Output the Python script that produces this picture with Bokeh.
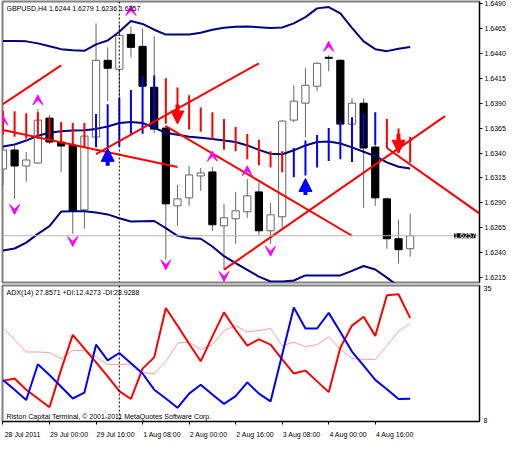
from bokeh.plotting import figure
from bokeh.models import (Range1d, FixedTicker, NumeralTickFormatter, Span, Label,
                          Arrow, VeeHead, NormalHead, ColumnDataSource, LinearAxis)
from bokeh.layouts import column
from bokeh.embed import file_html
from bokeh.resources import INLINE

FONT = "Liberation Sans"
FS = "7px"

# ---------------- data ----------------
bars = list(range(36))
opens = [1.6324, 1.6343, 1.6327, 1.6330, 1.6375, 1.6351, 1.6348, 1.6283, 1.6356, 1.6433,
         1.6424, 1.6459, 1.6447, 1.6406, 1.6365, 1.6287, 1.6295, 1.6317, 1.6321, 1.6267,
         1.6274, 1.6281, 1.6301, 1.6262, 1.6276, 1.6373, 1.6390, 1.6407, 1.6436, 1.6433,
         1.6369, 1.6390, 1.6346, 1.6294, 1.6254, 1.6244]
highs = [1.6347, 1.6347, 1.6341, 1.6384, 1.6378, 1.6353, 1.6351, 1.6358, 1.6470, 1.6446,
         1.6469, 1.6467, 1.6465, 1.6457, 1.6368, 1.6308, 1.6327, 1.6325, 1.6326, 1.6289,
         1.6301, 1.6314, 1.6310, 1.6290, 1.6373, 1.6408, 1.6425, 1.6431, 1.6438, 1.6434,
         1.6395, 1.6395, 1.6349, 1.6295, 1.6273, 1.6279]
lows = [1.6308, 1.6294, 1.6311, 1.6329, 1.6349, 1.6321, 1.6259, 1.6264, 1.6354, 1.6392,
        1.6395, 1.6436, 1.6403, 1.6360, 1.6233, 1.6267, 1.6287, 1.6302, 1.6262, 1.6223,
        1.6249, 1.6275, 1.6257, 1.6249, 1.6264, 1.6371, 1.6356, 1.6402, 1.6422, 1.6366,
        1.6366, 1.6285, 1.6287, 1.6244, 1.6229, 1.6236]
closes = [1.6343, 1.6327, 1.6333, 1.6373, 1.6351, 1.6347, 1.6282, 1.6357, 1.6433, 1.6425,
          1.6458, 1.6446, 1.6407, 1.6364, 1.6289, 1.6294, 1.6318, 1.6320, 1.6268, 1.6275,
          1.6282, 1.6297, 1.6262, 1.6278, 1.6372, 1.6392, 1.6408, 1.6430, 1.6435, 1.6369,
          1.6390, 1.6345, 1.6295, 1.6254, 1.6243, 1.6257]

upper_band = [1.64523, 1.64523, 1.64520, 1.64500, 1.64471, 1.64442, 1.64432, 1.64425, 1.64490, 1.64529,
              1.64617, 1.64724, 1.64695, 1.64637, 1.64588, 1.64588, 1.64588, 1.64607, 1.64637, 1.64656,
              1.64666, 1.64669, 1.64661, 1.64653, 1.64659, 1.64700, 1.64763, 1.64851, 1.64864, 1.64800,
              1.64656, 1.64520, 1.64442, 1.64422, 1.64447, 1.64464]
middle_band = [1.63466, 1.63486, 1.63525, 1.63574, 1.63603, 1.63618, 1.63627, 1.63629, 1.63642, 1.63666,
               1.63701, 1.63710, 1.63701, 1.63652, 1.63603, 1.63583, 1.63564, 1.63554, 1.63540, 1.63525,
               1.63510, 1.63476, 1.63432, 1.63393, 1.63388, 1.63427, 1.63476, 1.63510, 1.63515, 1.63496,
               1.63457, 1.63413, 1.63369, 1.63306, 1.63262, 1.63245]
lower_band = [1.62423, 1.62442, 1.62501, 1.62589, 1.62667, 1.62813, 1.62816, 1.62816, 1.62803, 1.62784,
              1.62745, 1.62713, 1.62716, 1.62718, 1.62647, 1.62569, 1.62545, 1.62540, 1.62462, 1.62365,
              1.62296, 1.62228, 1.62160, 1.62111, 1.62111, 1.62121, 1.62172, 1.62172, 1.62172, 1.62172,
              1.62218, 1.62267, 1.62231, 1.62150, 1.62062, 1.62023]

# trend histogram: +1 = up (blue), -1 = down (red)
hist_dir = [-1, -1, -1, -1, -1, -1, -1, -1,
            1, 1, 1, 1, 1, 1,
            -1, -1, -1, -1, -1, -1, -1, -1, -1, -1, -1,
            1, 1, 1, 1, 1, 1, 1, 1,
            -1, -1, -1]
hist_top = [1.63824, 1.63818, 1.63798, 1.63808, 1.63749, 1.63710, 1.63701, 1.63701,
            1.63791, 1.63889, 1.63954, 1.64032, 1.64169, 1.64178,
            1.64149, 1.64058, 1.63980, 1.63857, 1.63808, 1.63742, 1.63661, 1.63590, 1.63532, 1.63418, 1.63418,
            1.63450, 1.63525, 1.63581, 1.63652, 1.63717, 1.63759, 1.63791, 1.63808,
            1.63742, 1.63645, 1.63564]
hist_bot = [1.63583, 1.63564, 1.63544, 1.63544, 1.63535, 1.63496, 1.63476, 1.63457,
            1.63457, 1.63457, 1.63466, 1.63593, 1.63593, 1.63661,
            1.63694, 1.63710, 1.63635, 1.63613, 1.63532, 1.63434, 1.63418, 1.63337, 1.63278, 1.63255, 1.63206,
            1.63157, 1.63174, 1.63255, 1.63320, 1.63337, 1.63310, 1.63466, 1.63483,
            1.63450, 1.63401, 1.63304]

# trend lines (bar index, price)
tl_x0 = [0, 0, 8, 14, 19, 33]
tl_y0 = [1.6389, 1.6363, 1.6339, 1.6367, 1.6223, 1.6345]
tl_x1 = [5, 15, 22, 30, 38, 41]
tl_y1 = [1.6428, 1.6326, 1.6430, 1.6257, 1.6377, 1.6279]

# thick signal arrows
sig_idx = [9, 15, 26, 34]
sig_dir = [1, -1, 1, -1]
sig_tip = [1.63447, 1.63691, 1.63145, 1.63398]
sig_tail = [1.63271, 1.63886, 1.62979, 1.63593]

# fractal chevrons
frac_up_idx = [0, 3, 11, 18, 21, 28]
frac_up_tip = [1.63779, 1.63983, 1.64880, 1.63418, 1.63271, 1.64520]
frac_dn_idx = [1, 6, 14, 19, 23]
frac_dn_tip = [1.62784, 1.62462, 1.62228, 1.62111, 1.62365]

adx = [27.0, 24.5, 22.0, 22.0, 21.9, 20.6, 22.3, 22.3, 21.0, 19.4,
       19.5, 19.5, 17.8, 17.6, 20.1, 23.8, 24.1, 22.5, 23.5, 26.4,
       27.4, 26.1, 26.4, 26.8, 23.3, 24.0, 23.1, 23.5, 25.1, 22.5,
       20.7, 20.5, 20.5, 23.3, 26.2, 27.8571]
plus_di = [16.3, 14.3, 12.2, 19.5, 17.3, 14.9, 12.5, 13.7, 23.5, 20.3,
           21.8, 19.7, 17.6, 14.3, 12.5, 10.6, 13.5, 15.3, 13.3, 11.4,
           13.0, 15.8, 13.5, 11.9, 21.5, 31.1, 26.8, 26.8, 30.0, 26.1,
           22.1, 19.2, 16.3, 14.4, 12.4, 12.4273]
minus_di = [16.1, 16.6, 14.3, 12.5, 10.7, 18.4, 25.5, 22.7, 19.9, 17.0,
            14.0, 12.4, 18.6, 20.9, 31.0, 27.4, 23.7, 20.1, 25.2, 30.1,
            26.5, 23.3, 24.6, 23.5, 20.5, 17.6, 18.2, 16.0, 13.8, 22.9,
            27.4, 29.2, 25.3, 33.6, 33.8, 28.9288]

time_tick_idx = [0, 4, 8, 12, 16, 20, 24, 28, 32]
time_tick_labels = ["28 Jul 2011", "29 Jul 00:00", "29 Jul 16:00", "1 Aug 08:00", "2 Aug 00:00",
                    "2 Aug 16:00", "3 Aug 08:00", "4 Aug 00:00", "4 Aug 16:00"]
price_ticks = [1.6215, 1.6240, 1.6265, 1.6290, 1.6315, 1.6340, 1.6365, 1.6390,
               1.6415, 1.6440, 1.6465, 1.6490]
adx_ticks = [8, 35]
cursor_bar = 10
symbol = "GBPUSD,H4"
copyright_text = "Riston Capital Terminal, \u00a9 2001-2011 MetaQuotes Software Corp."

# ---------------- figures ----------------
X0, X1 = -0.04, 40.96
X_RANGE = Range1d(X0, X1)
LABEL_SHIFT = 1.68  # time labels start at their tick (MT4 style)
W = 509


def style_right_axis(ax):
    ax.axis_line_color = "black"
    ax.major_tick_out = 3
    ax.major_tick_in = 0
    ax.minor_tick_line_color = None
    ax.major_label_text_font = FONT
    ax.major_label_text_font_size = FS
    ax.major_label_text_color = "black"
    ax.major_label_standoff = 2


p = figure(width=W, height=284, x_range=X_RANGE, y_range=Range1d(1.62101, 1.64920),
           output_backend="svg", toolbar_location=None, x_axis_location=None,
           y_axis_location="right", min_border_left=2, min_border_right=30,
           min_border_top=1, min_border_bottom=2)
p.grid.visible = False
p.outline_line_color = "#808080"
p.outline_line_width = 2
style_right_axis(p.yaxis[0])
p.yaxis[0].ticker = FixedTicker(ticks=price_ticks)
p.yaxis[0].formatter = NumeralTickFormatter(format="0.0000")

# current price line and cursor line
p.add_layout(Span(location=closes[-1], dimension="width", line_color="#b8b8b8", line_width=1))
p.add_layout(Span(location=cursor_bar, dimension="height", line_color="black",
                  line_width=1, line_dash="2 2"))

# candles
up = [i for i in bars if closes[i] >= opens[i]]
dn = [i for i in bars if closes[i] < opens[i]]
p.segment(x0=bars, y0=lows, x1=bars, y1=highs, line_color="#666666", line_width=1)
p.vbar(x=up, width=0.62, bottom=[opens[i] for i in up], top=[closes[i] for i in up],
       fill_color="white", line_color="#666666", line_width=1)
p.vbar(x=dn, width=0.62, bottom=[closes[i] for i in dn], top=[opens[i] for i in dn],
       fill_color="black", line_color="black", line_width=1)

# bollinger bands
for band in (upper_band, middle_band, lower_band):
    p.line(bars, band, line_color="#000080", line_width=2)

# trend histogram
hist_colors = ["#0000FF" if d > 0 else "#FF0000" for d in hist_dir]
p.segment(x0=bars, y0=hist_bot, x1=bars, y1=hist_top, line_color=hist_colors, line_width=2)

# trend lines
p.segment(x0=tl_x0, y0=tl_y0, x1=tl_x1, y1=tl_y1, line_color="#FF0000", line_width=2)

# signal arrows
for i, d, tip, tail in zip(sig_idx, sig_dir, sig_tip, sig_tail):
    c = "#0000FF" if d > 0 else "#FF0000"
    p.add_layout(Arrow(end=NormalHead(size=13, fill_color=c, line_color=c, line_width=1),
                       x_start=i, y_start=tail, x_end=i, y_end=tip,
                       line_color=c, line_width=4))

# fractals
eps = 0.00002
up_src = ColumnDataSource(dict(x=frac_up_idx, y0=[t - eps for t in frac_up_tip], y1=frac_up_tip))
dn_src = ColumnDataSource(dict(x=frac_dn_idx, y0=[t + eps for t in frac_dn_tip], y1=frac_dn_tip))
for src in (up_src, dn_src):
    p.add_layout(Arrow(end=VeeHead(size=10, fill_color="#FF00FF", line_color="#FF00FF", line_width=1),
                       source=src, x_start="x", y_start="y0", x_end="x", y_end="y1",
                       line_alpha=0))

# title and price tag
title_text = "%s  %.4f %.4f %.4f %.4f" % (symbol, opens[-1], highs[-1], lows[-1], closes[-1])
p.add_layout(Label(x=X0, y=p.y_range.end, text=title_text, x_offset=4, y_offset=-3,
                   text_baseline="top", text_align="left", text_font=FONT, text_font_size=FS,
                   text_color="black"))
p.add_layout(Label(x=X1, y=closes[-1], text="%.4f" % closes[-1], x_offset=-4,
                   text_baseline="middle", text_align="right", text_font=FONT, text_font_size=FS,
                   text_color="white", background_fill_color="black"))

# ---------------- ADX panel ----------------
q = figure(width=W, height=156, x_range=X_RANGE, y_range=Range1d(7.80, 35.59),
           output_backend="svg", toolbar_location=None, x_axis_location="below",
           y_axis_location="right", min_border_left=2, min_border_right=30,
           min_border_top=1, min_border_bottom=14)
q.extra_x_ranges = {"labels": Range1d(X0 - LABEL_SHIFT, X1 - LABEL_SHIFT)}
q.grid.visible = False
q.outline_line_color = "#808080"
q.outline_line_width = 2
style_right_axis(q.yaxis[0])
q.yaxis[0].ticker = FixedTicker(ticks=adx_ticks)
q.yaxis[0].major_tick_out = 0
q.yaxis[0].major_label_standoff = 4

xa = q.xaxis[0]
xa.ticker = FixedTicker(ticks=time_tick_idx)
xa.major_label_overrides = {k: "" for k in time_tick_idx}
xa.axis_line_color = "black"
xa.major_tick_out = 3
xa.major_tick_in = 0
xa.minor_tick_line_color = None
xa.major_label_text_font_size = "1px"
xa.major_label_standoff = 0

xb = LinearAxis(x_range_name="labels", ticker=FixedTicker(ticks=time_tick_idx),
                major_label_overrides=dict(zip(time_tick_idx, time_tick_labels)),
                axis_line_color=None, major_tick_line_color=None, minor_tick_line_color=None,
                major_label_standoff=0, major_label_text_font=FONT,
                major_label_text_font_size=FS, major_label_text_color="black")
q.add_layout(xb, "below")

q.add_layout(Span(location=cursor_bar, dimension="height", line_color="black",
                  line_width=1, line_dash="2 2"))
q.line(bars, adx, line_color="#FF9C9C", line_width=1)
q.line(bars, minus_di, line_color="#FF0000", line_width=2)
q.line(bars, plus_di, line_color="#0000FF", line_width=2)

adx_text = "ADX(14) %.4f +DI:%.4f -DI:%.4f" % (adx[-1], plus_di[-1], minus_di[-1])
q.add_layout(Label(x=X0, y=q.y_range.end, text=adx_text, x_offset=4, y_offset=-3,
                   text_baseline="top", text_align="left", text_font=FONT, text_font_size=FS,
                   text_color="black"))
q.add_layout(Label(x=X0, y=q.y_range.start, text=copyright_text, x_offset=4, y_offset=2,
                   text_baseline="bottom", text_align="left", text_font=FONT, text_font_size=FS,
                   text_color="black"))

layout = column(p, q, spacing=0)
open("out.html", "w").write(file_html(layout, INLINE))
